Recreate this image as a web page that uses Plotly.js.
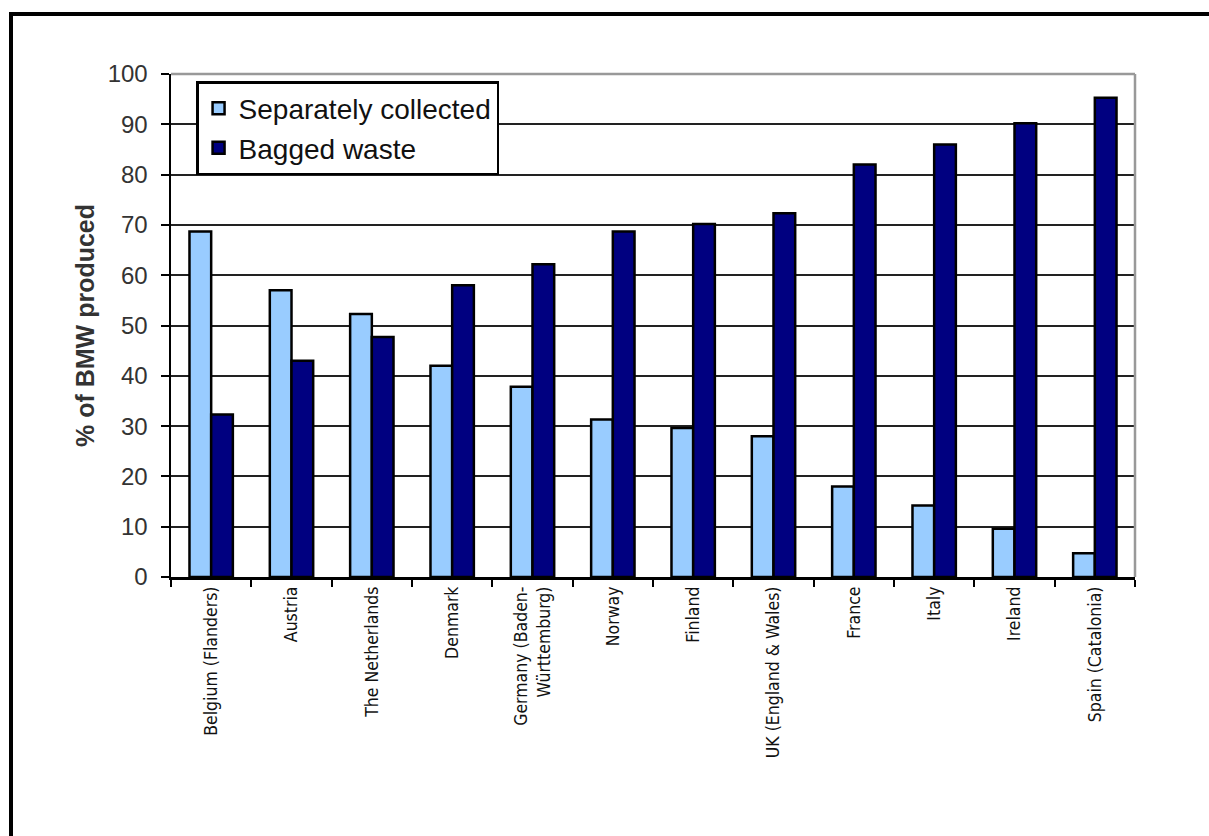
<!DOCTYPE html>
<html>
<head>
<meta charset="utf-8">
<script src="https://cdn.plot.ly/plotly-3.0.1.min.js"></script>
<style>
  html, body { margin: 0; padding: 0; background: #fff; overflow: hidden; width: 1209px; height: 836px; }
  #frame {
    position: absolute; left: 9px; top: 12px; width: 1200px; height: 824px;
    border-left: 4px solid #000; border-top: 4px solid #000;
    box-sizing: border-box;
  }
  #chart { position: absolute; left: 0; top: 0; width: 1209px; height: 836px; }
</style>
</head>
<body>
<div id="frame"></div>
<div id="chart"></div>
<script>
// Countries / regions along the x axis
const countries = [
  "Belgium (Flanders)", "Austria", "The Netherlands", "Denmark",
  "Germany (Baden-<br>Württemburg)", "Norway", "Finland", "UK (England & Wales)",
  "France", "Italy", "Ireland", "Spain (Catalonia)"
];

// Share of biodegradable municipal waste (%)
const separatelyCollected = [68.7, 57, 52.3, 42, 37.8, 31.3, 29.6, 28, 18, 14.2, 9.6, 4.7];
const baggedWaste         = [32.3, 43, 47.7, 58, 62.2, 68.7, 70.2, 72.3, 82, 86, 90.2, 95.3];

const yTicks = [0, 10, 20, 30, 40, 50, 60, 70, 80, 90, 100];

const narrow = "'Liberation Sans Narrow', 'DejaVu Sans Condensed', 'Arial Narrow', sans-serif";
const sans = "'Liberation Sans', Arial, sans-serif";

const traces = [
  {
    type: "bar", name: "Separately collected",
    x: countries, y: separatelyCollected,
    marker: { color: "#99CCFF", line: { color: "#000", width: 2.5 } }
  },
  {
    type: "bar", name: "Bagged waste",
    x: countries, y: baggedWaste,
    marker: { color: "#000080", line: { color: "#000", width: 2.5 } }
  }
];

const layout = {
  width: 1209, height: 836,
  margin: { l: 171, r: 74, t: 74, b: 259 },
  paper_bgcolor: "rgba(0,0,0,0)",
  plot_bgcolor: "#fff",
  barmode: "group",
  bargap: 0.46,
  bargroupgap: 0,
  showlegend: true,
  legend: {
    x: 0.026, y: 0.986, xanchor: "left", yanchor: "top",
    bgcolor: "#fff", bordercolor: "#000", borderwidth: 2.5,
    font: { family: sans, size: 28, color: "#111" },
    tracegroupgap: 0
  },
  xaxis: {
    type: "category",
    tickangle: -90,
    tickson: "boundaries",
    ticks: "outside", ticklen: 7, tickwidth: 2, tickcolor: "#000",
    showline: true, linecolor: "#000", linewidth: 2.5,
    showgrid: false,
    tickfont: { family: narrow, size: 17.5, color: "#111" }
  },
  yaxis: {
    range: [0, 100],
    tickvals: yTicks,
    ticks: "outside", ticklen: 8, tickwidth: 2, tickcolor: "#000",
    ticklabelstandoff: 8,
    showline: true, linecolor: "#000", linewidth: 2.5,
    showgrid: true, gridcolor: "#222", gridwidth: 2,
    zeroline: false,
    tickfont: { family: sans, size: 24, color: "#333" },
    title: {
      text: "<b>% of BMW produced</b>",
      font: { family: sans, size: 25, color: "#333" },
      standoff: 6
    }
  },
  shapes: [
    { type: "line", xref: "paper", yref: "paper", x0: 0, x1: 1, y0: 1, y1: 1,
      line: { color: "#999", width: 2.5 }, layer: "above" },
    { type: "line", xref: "paper", yref: "paper", x0: 1, x1: 1, y0: 0, y1: 1,
      line: { color: "#999", width: 2.5 }, layer: "above" }
  ]
};

Plotly.newPlot("chart", traces, layout, { displayModeBar: false, staticPlot: true });
</script>
</body>
</html>
